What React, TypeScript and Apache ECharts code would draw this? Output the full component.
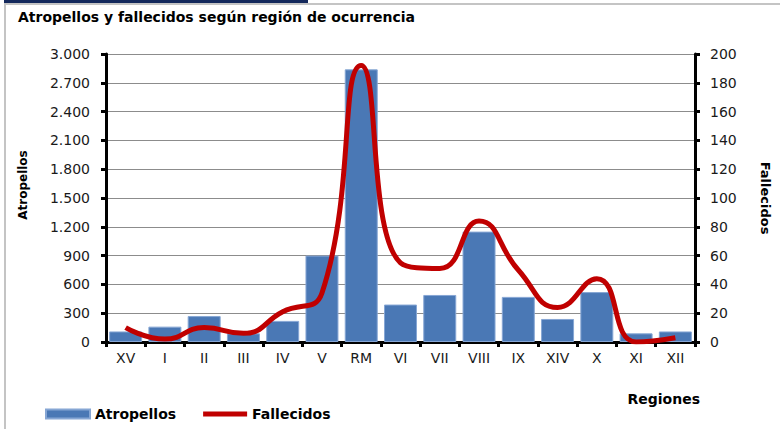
import React, { useEffect, useRef } from "react";
import * as echarts from "echarts";

const titleText = "Atropellos y fallecidos según región de ocurrencia";
const categories = ["XV", "I", "II", "III", "IV", "V", "RM", "VI", "VII", "VIII", "IX", "XIV", "X", "XI", "XII"];
const atropellos = [110, 160, 270, 90, 220, 900, 2840, 390, 490, 1150, 470, 240, 520, 90, 110];
const fallecidos = [10, 2, 10, 6, 21, 34, 192, 55, 51, 84, 50, 24, 44, 0, 3];
const leftAxisName = "Atropellos";
const rightAxisName = "Fallecidos";
const xAxisName = "Regiones";

const FONT = "'DejaVu Sans', Verdana, sans-serif";

const fmtThousands = (v: number) => String(v).replace(/\B(?=(\d{3})+(?!\d))/g, ".");

export default function App() {
  const ref = useRef<HTMLDivElement>(null);
  useEffect(() => {
    document.body.style.margin = "0";
    if (!ref.current) return;
    const chart = echarts.init(ref.current, null, { renderer: "svg" });
    chart.setOption({
      animation: false,
      backgroundColor: "#ffffff",
      title: {
        text: titleText,
        left: 18,
        top: 10,
        padding: 0,
        textStyle: { fontFamily: FONT, fontSize: 14, fontWeight: "bold", color: "#000" },
      },
      legend: {
        left: 45,
        top: 407,
        padding: 0,
        itemWidth: 44,
        itemHeight: 9,
        itemGap: 27,
        textStyle: { fontFamily: FONT, fontSize: 14, fontWeight: "bold", color: "#000" },
        data: [
          { name: "Atropellos", icon: "rect" },
          { name: "Fallecidos", icon: "path://M0,0 L44,0 L44,5 L0,5 Z" },
        ],
      },
      grid: { left: 106, right: 83, top: 54, bottom: 87, containLabel: false },
      xAxis: {
        type: "category",
        data: categories,
        boundaryGap: true,
        axisLine: { lineStyle: { color: "#000", width: 3 } },
        axisTick: { show: true, length: 5, lineStyle: { color: "#000", width: 3 } },
        axisLabel: { margin: 9, fontFamily: FONT, fontSize: 14, color: "#1a1a1a" },
        splitLine: { show: false },
      },
      yAxis: [
        {
          type: "value",
          position: "left",
          min: 0,
          max: 3000,
          interval: 300,
          name: leftAxisName,
          nameLocation: "middle",
          nameRotate: 90,
          nameGap: 77,
          nameTextStyle: { fontFamily: FONT, fontSize: 12, fontWeight: "bold", color: "#000", padding: [0, 0, 0, 26] },
          axisLine: { show: true, lineStyle: { color: "#000", width: 3 } },
          axisTick: { show: true, length: 5, lineStyle: { color: "#000", width: 3 } },
          axisLabel: { margin: 16, fontFamily: FONT, fontSize: 14, color: "#1a1a1a", formatter: fmtThousands },
          splitLine: { show: true, lineStyle: { color: "#8c8c8c", width: 1 } },
        },
        {
          type: "value",
          position: "right",
          min: 0,
          max: 200,
          interval: 20,
          name: rightAxisName,
          nameLocation: "middle",
          nameRotate: -90,
          nameGap: 64,
          nameTextStyle: { fontFamily: FONT, fontSize: 13, fontWeight: "bold", color: "#000" },
          axisLine: { show: true, lineStyle: { color: "#000", width: 3 } },
          axisTick: { show: true, length: 5, lineStyle: { color: "#000", width: 3 } },
          axisLabel: { margin: 15, fontFamily: FONT, fontSize: 14, color: "#1a1a1a" },
          splitLine: { show: false },
        },
      ],
      series: [
        {
          name: "Atropellos",
          type: "bar",
          yAxisIndex: 0,
          data: atropellos,
          barCategoryGap: "16%",
          itemStyle: { color: "#4a78b5", borderColor: "#86a6d4", borderWidth: 1 },
        },
        {
          name: "Fallecidos",
          type: "line",
          yAxisIndex: 1,
          data: fallecidos,
          smooth: 0.5,
          symbol: "none",
          showSymbol: false,
          lineStyle: { color: "#c00000", width: 5 },
          itemStyle: { color: "#c00000" },
          z: 5,
        },
      ],
      graphic: [
        { type: "rect", left: 4, top: 0, shape: { width: 304, height: 3 }, style: { fill: "#14295c" } },
        { type: "rect", left: 4, top: 3, shape: { width: 776, height: 2 }, style: { fill: "#c4c4c4" } },
        { type: "rect", left: 4, top: 3, shape: { width: 2, height: 426 }, style: { fill: "#c4c4c4" } },
        {
          type: "text",
          x: 700,
          y: 399,
          style: {
            text: xAxisName,
            align: "right",
            verticalAlign: "middle",
            font: `bold 14px ${FONT}`,
            fill: "#000",
          },
        },
      ],
    });
    return () => chart.dispose();
  }, []);
  return <div ref={ref} style={{ width: 780, height: 429 }} />;
}
